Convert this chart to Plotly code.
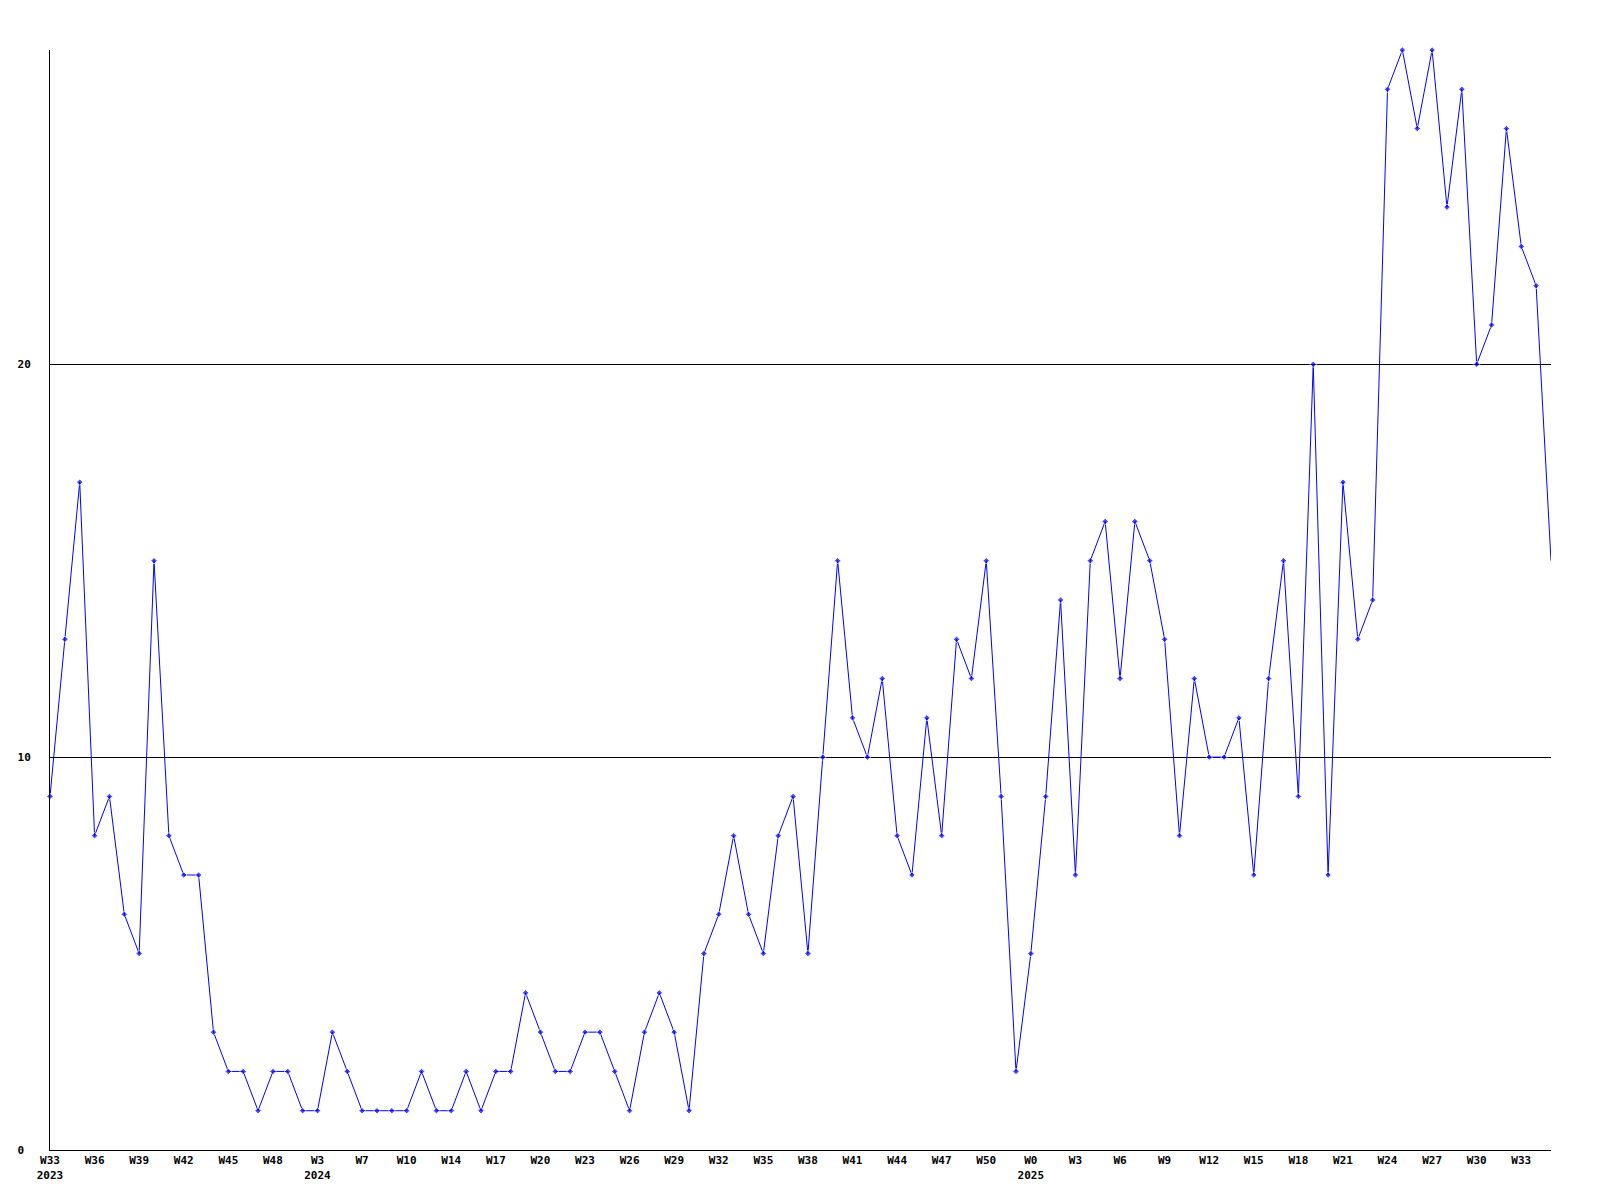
import plotly.graph_objects as go

values = [9, 13, 17, 8, 9, 6, 5, 15, 8, 7,
          7, 3, 2, 2, 1, 2, 2, 1, 1, 3,
          2, 1, 1, 1, 1, 2, 1, 1, 2, 1,
          2, 2, 4, 3, 2, 2, 3, 3, 2, 1,
          3, 4, 3, 1, 5, 6, 8, 6, 5, 8,
          9, 5, 10, 15, 11, 10, 12, 8, 7, 11,
          8, 13, 12, 15, 9, 2, 5, 9, 14, 7,
          15, 16, 12, 16, 15, 13, 8, 12, 10, 10,
          11, 7, 12, 15, 9, 20, 7, 17, 13, 14,
          27, 28, 26, 28, 24, 27, 20, 21, 26, 23,
          22, 15]

tick_labels = ["W33<br>2023", "W36", "W39", "W42", "W45", "W48", "W3<br>2024", "W7", "W10",
               "W14", "W17", "W20", "W23", "W26", "W29", "W32", "W35", "W38", "W41",
               "W44", "W47", "W50", "W0<br>2025", "W3", "W6", "W9", "W12", "W15", "W18",
               "W21", "W24", "W27", "W30", "W33"]

y_ticks = [0, 10, 20]
y_tick_text = ["0\u00a0", "10", "20"]

n = len(values)
x = list(range(n))
tick_step = 3
tick_vals = [i * tick_step for i in range(len(tick_labels))]
marker_sizes = [5] * (n - 1) + [0]

fig = go.Figure()
fig.add_trace(go.Scatter(
    x=x, y=values, mode="lines+markers",
    line=dict(color="#0000ff", width=1),
    marker=dict(symbol="diamond", size=marker_sizes, color="#0000ff"),
    cliponaxis=False,
    hoverinfo="x+y",
))

font = dict(family="DejaVu Sans Mono", size=11, color="black", weight="bold")

fig.update_layout(
    width=1592, height=1192,
    paper_bgcolor="white", plot_bgcolor="white",
    margin=dict(l=42, r=49, t=42, b=50, autoexpand=False),
    showlegend=False,
    font=font,
    xaxis=dict(
        range=[0, n - 1], tickmode="array", tickvals=tick_vals, ticktext=tick_labels,
        showgrid=False, zeroline=False, showline=True, linecolor="black", linewidth=1,
        ticks="", tickfont=font, tickangle=0,
    ),
    yaxis=dict(
        range=[0, 28], tickmode="array", tickvals=y_ticks, ticktext=y_tick_text,
        showgrid=True, gridcolor="black", gridwidth=1, zeroline=False,
        showline=True, linecolor="black", linewidth=1,
        ticks="", tickfont=font, ticklabelstandoff=16,
    ),
)

fig.write_html("out.html")
